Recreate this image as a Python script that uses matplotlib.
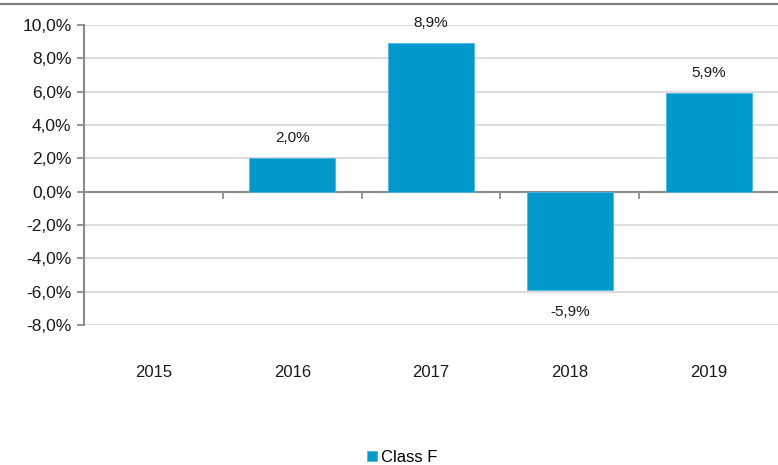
import numpy as np
import matplotlib.pyplot as plt
from matplotlib.lines import Line2D
from matplotlib.ticker import FuncFormatter

plt.rcParams['font.family'] = ['Liberation Sans', 'DejaVu Sans']

years = ['2015', '2016', '2017', '2018', '2019']
class_f = [np.nan, 2.0, 8.9, -5.9, 5.9]

bar_color = '#0099cc'
axis_grey = '#8c8c8c'

fig = plt.figure(figsize=(7.78, 4.65), dpi=100)
ax = fig.add_axes([84 / 778, 140 / 465, 694 / 778, 300 / 465])

x = np.arange(len(years))
bars = ax.bar(x, class_f, width=0.62, color=bar_color, edgecolor='#4db8e0', linewidth=0.6,
              label='Class F', zorder=3)

# value labels (skip missing year)
for xi, v in zip(x, class_f):
    if np.isnan(v):
        continue
    off = 14.5 if v >= 0 else -15.5
    ax.annotate(f'{v:.1f}%'.replace('.', ','), (xi, v), xytext=(0, off),
                textcoords='offset points', ha='center', va='center',
                fontsize=11, color='#1a1a1a')

ax.set_xlim(-0.5, 4.5)
ax.set_ylim(-8, 10)
ax.set_yticks(np.arange(-8, 11, 2))
ax.yaxis.set_major_formatter(FuncFormatter(lambda v, p: f'{v:.1f}%'.replace('.', ',')))
ax.grid(axis='y', color='#d9d9d9', linewidth=1.3, zorder=0)

for s in ['top', 'right']:
    ax.spines[s].set_visible(False)
ax.spines['left'].set_color(axis_grey)
ax.spines['left'].set_linewidth(1.5)
ax.spines['bottom'].set_position(('data', 0))
ax.spines['bottom'].set_color(axis_grey)
ax.spines['bottom'].set_linewidth(1.5)

ax.set_xticks(x)
ax.set_xticklabels(years)
ax.set_xticks(np.arange(0.5, 4.5, 1), minor=True)
ax.tick_params(axis='x', which='major', length=0, pad=125, labelsize=12, labelcolor='#1a1a1a')
ax.tick_params(axis='x', which='minor', length=5, width=1.3, color=axis_grey, direction='out')
ax.tick_params(axis='y', length=5, width=1.3, color=axis_grey, labelsize=12.5,
               labelcolor='#1a1a1a', pad=4)

fig.legend(loc='lower center', bbox_to_anchor=(0.517, -0.033), frameon=False,
           fontsize=12, handlelength=0.55, handleheight=0.55, handletextpad=0.25)

# thin grey rule at top of figure
fig.add_artist(Line2D([0, 0.999], [0.991, 0.991], transform=fig.transFigure,
                      color='#808080', linewidth=1.6))

fig.savefig('out.png', dpi=100)
